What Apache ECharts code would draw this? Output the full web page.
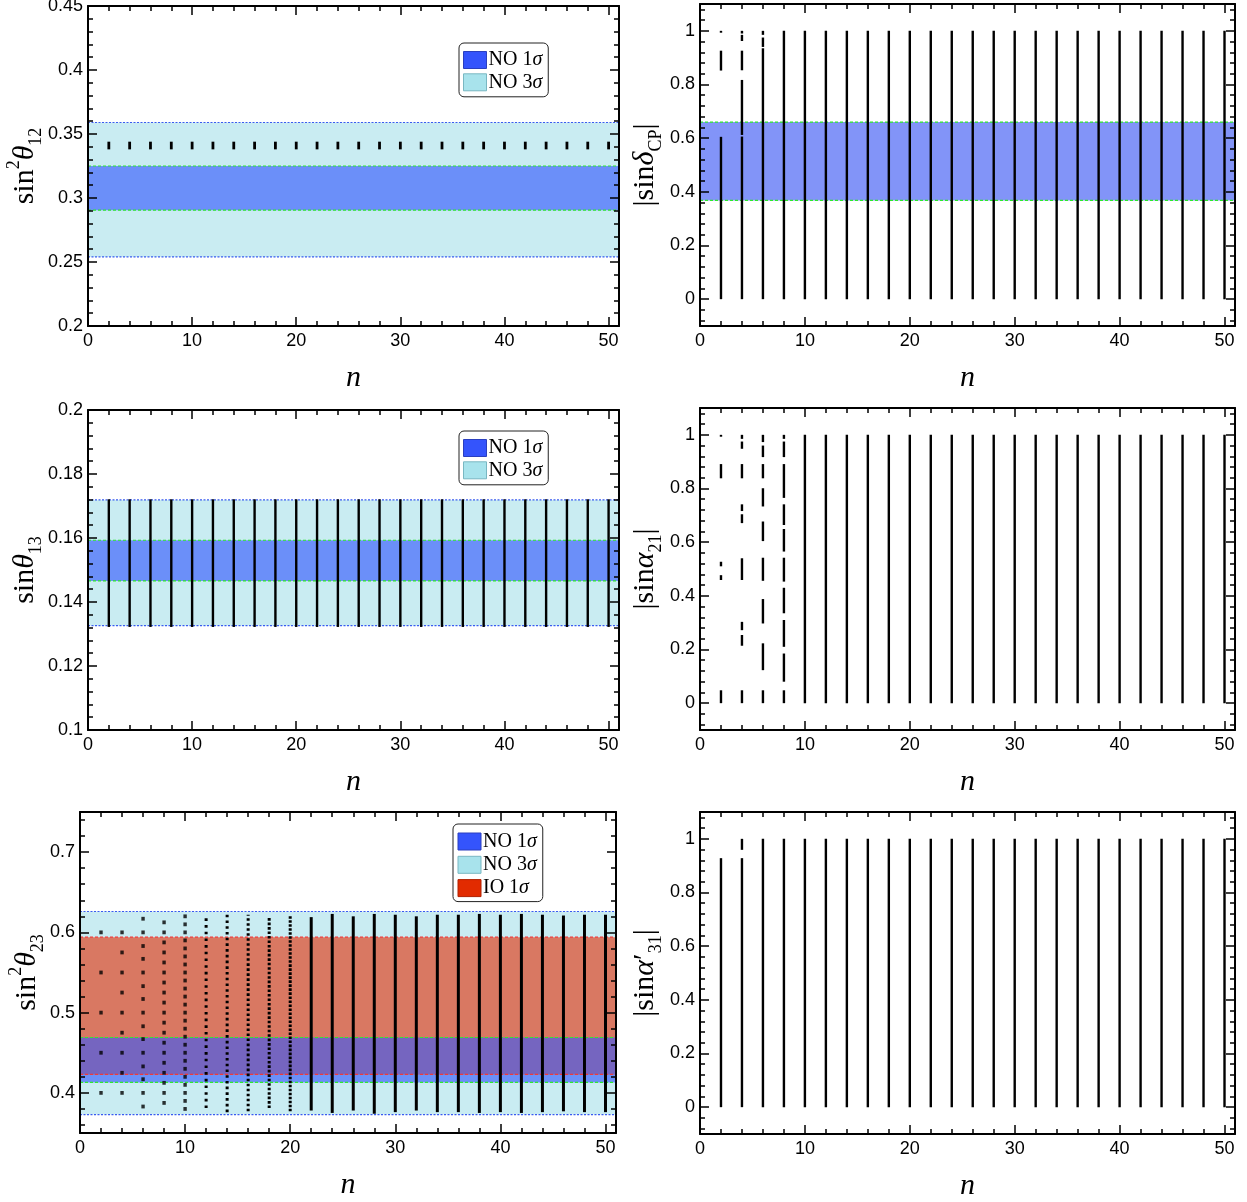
<!DOCTYPE html>
<html>
<head>
<meta charset="utf-8">
<script src="https://cdn.jsdelivr.net/npm/echarts@6/dist/echarts.min.js"></script>
<style>
  html, body { margin: 0; padding: 0; background: #fff; }
  #chart { width: 1247px; height: 1202px; }
</style>
</head>
<body>
<div id="chart"></div>
<script>
// ---------- tick positions ----------
const xMajorTicks = [0, 10, 20, 30, 40, 50];
const xMinorTicks = [2, 4, 6, 8, 12, 14, 16, 18, 22, 24, 26, 28, 32, 34, 36, 38, 42, 44, 46, 48];

const s12MajorTicks = [0.2, 0.25, 0.3, 0.35, 0.4, 0.45];
const s12MinorTicks = [0.21, 0.22, 0.23, 0.24, 0.26, 0.27, 0.28, 0.29, 0.31, 0.32, 0.33, 0.34,
                       0.36, 0.37, 0.38, 0.39, 0.41, 0.42, 0.43, 0.44];
const s13MajorTicks = [0.1, 0.12, 0.14, 0.16, 0.18, 0.2];
const s13MinorTicks = [0.104, 0.108, 0.112, 0.116, 0.124, 0.128, 0.132, 0.136, 0.144, 0.148, 0.152, 0.156,
                       0.164, 0.168, 0.172, 0.176, 0.184, 0.188, 0.192, 0.196];
const s23MajorTicks = [0.4, 0.5, 0.6, 0.7];
const s23MinorTicks = [0.36, 0.38, 0.42, 0.44, 0.46, 0.48, 0.52, 0.54, 0.56, 0.58, 0.62, 0.64, 0.66, 0.68, 0.72, 0.74];
const unitMajorTicks = [0, 0.2, 0.4, 0.6, 0.8, 1];
const unitMinorTicks = [-0.08, -0.04, 0.04, 0.08, 0.12, 0.16, 0.24, 0.28, 0.32, 0.36, 0.44, 0.48, 0.52, 0.56,
                        0.64, 0.68, 0.72, 0.76, 0.84, 0.88, 0.92, 0.96, 1.04, 1.08];

// ---------- model points: n = 2, 4, ..., 50 ----------
const nValues = [2, 4, 6, 8, 10, 12, 14, 16, 18, 20, 22, 24, 26, 28, 30, 32, 34, 36, 38, 40, 42, 44, 46, 48, 50];

// sin^2(theta12): short column at every n
const s12Low  = [0.338, 0.338, 0.338, 0.338, 0.338, 0.338, 0.338, 0.338, 0.338, 0.338, 0.338, 0.338, 0.338,
                 0.338, 0.338, 0.338, 0.338, 0.338, 0.338, 0.338, 0.338, 0.338, 0.338, 0.338, 0.338];
const s12High = [0.344, 0.344, 0.344, 0.344, 0.344, 0.344, 0.344, 0.344, 0.344, 0.344, 0.344, 0.344, 0.344,
                 0.344, 0.344, 0.344, 0.344, 0.344, 0.344, 0.344, 0.344, 0.344, 0.344, 0.344, 0.344];

// sin(theta13)
const s13Low  = [0.1322, 0.1322, 0.1322, 0.1322, 0.1322, 0.1322, 0.1322, 0.1322, 0.1322, 0.1322, 0.1322, 0.1322, 0.1322,
                 0.1322, 0.1322, 0.1322, 0.1322, 0.1322, 0.1322, 0.1322, 0.1322, 0.1322, 0.1322, 0.1322, 0.1322];
const s13High = [0.1721, 0.1721, 0.1721, 0.1721, 0.1721, 0.1721, 0.1721, 0.1721, 0.1721, 0.1721, 0.1721, 0.1721, 0.1721,
                 0.1721, 0.1721, 0.1721, 0.1721, 0.1721, 0.1721, 0.1721, 0.1721, 0.1721, 0.1721, 0.1721, 0.1721];

// |sin deltaCP|: covered intervals at each n
const dcpSegments = [
  [[0.993, 1.0], [0.852, 0.926], [0, 0.605]],
  [[0.99, 1.0], [0.962, 0.985], [0.853, 0.926], [0.612, 0.817], [0, 0.606]],
  [[0.985, 1.0], [0.94, 0.975], [0, 0.935]],
  [[0, 1]], [[0, 1]], [[0, 1]], [[0, 1]], [[0, 1]], [[0, 1]], [[0, 1]], [[0, 1]], [[0, 1]],
  [[0, 1]], [[0, 1]], [[0, 1]], [[0, 1]], [[0, 1]], [[0, 1]], [[0, 1]], [[0, 1]], [[0, 1]],
  [[0, 1]], [[0, 1]], [[0, 1]], [[0, 1]]
];

// |sin alpha21|
const a21Segments = [
  [[0.993, 1.0], [0.838, 0.891], [0.51, 0.527], [0.459, 0.477], [0, 0.048]],
  [[0.985, 1.0], [0.948, 0.975], [0.838, 0.891], [0.716, 0.741], [0.671, 0.704], [0.459, 0.540],
   [0.272, 0.303], [0.214, 0.254], [0, 0.048]],
  [[0.973, 1.0], [0.917, 0.96], [0.838, 0.891], [0.733, 0.801], [0.604, 0.677], [0.456, 0.542],
   [0.297, 0.388], [0.123, 0.223], [0, 0.048]],
  [[0.985, 1.0], [0.917, 0.975], [0.765, 0.891], [0.664, 0.741], [0.565, 0.649], [0.453, 0.542],
   [0.335, 0.430], [0.210, 0.310], [0.080, 0.185], [0, 0.048]],
  [[0, 1]], [[0, 1]], [[0, 1]], [[0, 1]], [[0, 1]], [[0, 1]], [[0, 1]], [[0, 1]], [[0, 1]],
  [[0, 1]], [[0, 1]], [[0, 1]], [[0, 1]], [[0, 1]], [[0, 1]], [[0, 1]], [[0, 1]], [[0, 1]],
  [[0, 1]], [[0, 1]], [[0, 1]]
];

// |sin alpha'31|
const a31Segments = [
  [[0, 0.928]],
  [[0, 0.928], [0.959, 1.0]],
  [[0, 1]], [[0, 1]], [[0, 1]], [[0, 1]], [[0, 1]], [[0, 1]], [[0, 1]], [[0, 1]], [[0, 1]],
  [[0, 1]], [[0, 1]], [[0, 1]], [[0, 1]], [[0, 1]], [[0, 1]], [[0, 1]], [[0, 1]], [[0, 1]],
  [[0, 1]], [[0, 1]], [[0, 1]], [[0, 1]], [[0, 1]]
];

// sin^2(theta23): isolated points for small n ...
const s23DotN = [2, 4, 6, 8, 10];
const s23Dots = [
  [0.4, 0.45, 0.5, 0.55, 0.6],
  [0.4, 0.425, 0.45, 0.475, 0.5, 0.525, 0.55, 0.575, 0.6],
  [0.383, 0.4, 0.417, 0.433, 0.45, 0.467, 0.483, 0.5, 0.517, 0.533, 0.55, 0.567, 0.583, 0.6, 0.617],
  [0.3875, 0.4, 0.4125, 0.425, 0.4375, 0.45, 0.4625, 0.475, 0.4875, 0.5, 0.5125, 0.525, 0.5375,
   0.55, 0.5625, 0.575, 0.5875, 0.6, 0.6125],
  [0.38, 0.39, 0.40, 0.41, 0.42, 0.43, 0.44, 0.45, 0.46, 0.47, 0.48, 0.49, 0.50, 0.51, 0.52, 0.53,
   0.54, 0.55, 0.56, 0.57, 0.58, 0.59, 0.60, 0.61, 0.62]
];
// ... and dense columns for larger n (pitch = spacing of the points, 0 = solid)
const s23ColN     = [12, 14, 16, 18, 20, 22, 24, 26, 28, 30, 32, 34, 36, 38, 40, 42, 44, 46, 48, 50];
const s23ColLow   = [0.381, 0.376, 0.377, 0.381, 0.377, 0.378, 0.375, 0.378, 0.374, 0.376, 0.378, 0.376, 0.376,
                     0.375, 0.376, 0.375, 0.376, 0.377, 0.376, 0.376];
const s23ColHigh  = [0.618, 0.623, 0.622, 0.619, 0.622, 0.619, 0.623, 0.620, 0.623, 0.622, 0.620, 0.622, 0.622,
                     0.623, 0.622, 0.623, 0.622, 0.621, 0.622, 0.622];
const s23ColPitch = [0.00833, 0.00714, 0.00625, 0.00556, 0.005, 0, 0, 0, 0, 0, 0, 0, 0,
                     0, 0, 0, 0, 0, 0, 0];

// ---------- allowed ranges [low, high] ----------
const s12NO3 = [0.254, 0.359];
const s12NO1 = [0.2905, 0.325];
const dcpNO1 = [0.368, 0.660];
const s13NO3 = [0.1326, 0.1719];
const s13NO1 = [0.1466, 0.1593];
const s23NO3 = [0.373, 0.626];
const s23NO1 = [0.413, 0.469];
const s23IO1 = [0.423, 0.594];

// ---------- styling ----------
const SANS = 'Liberation Sans';
const SERIF = 'Liberation Serif';
const C = {
  cyan: '#c9ecf2', blue: '#6b8ff9', blueCP: '#8294f8', red: '#d97862', purple: '#7565c0',
  edge3: '#3a5cf0', edgeNO: '#2ee82e', edgeIO: '#f03a3a'
};

const grids = [
  { left: 88,  top: 6,   width: 531, height: 320 },
  { left: 700, top: 4,   width: 535, height: 322 },
  { left: 88,  top: 410, width: 531, height: 320 },
  { left: 700, top: 408, width: 535, height: 322 },
  { left: 80,  top: 812, width: 536, height: 321 },
  { left: 700, top: 812, width: 535, height: 322 }
].map(g => Object.assign({ containLabel: false, outerBoundsMode: 'none' }, g));

const titleRich = {
  r:   { fontFamily: SERIF, fontSize: 30, lineHeight: 40, color: '#000' },
  i:   { fontFamily: SERIF, fontSize: 30, lineHeight: 40, fontStyle: 'italic', color: '#000' },
  sup: { fontFamily: SERIF, fontSize: 18, lineHeight: 16, verticalAlign: 'top', color: '#000' },
  sub: { fontFamily: SERIF, fontSize: 18, lineHeight: 26, verticalAlign: 'bottom', color: '#000' }
};

const panels = [
  { y: [0.2, 0.45],  major: s12MajorTicks, minor: s12MinorTicks, gap: 43,
    title: '{r|sin}{sup|2}{i|θ}{sub|12}' },
  { y: [-0.1, 1.1],  major: unitMajorTicks, minor: unitMinorTicks, gap: 35,
    title: '{r||sin}{i|δ}{sub|CP}{r||}' },
  { y: [0.1, 0.2],   major: s13MajorTicks, minor: s13MinorTicks, gap: 43,
    title: '{r|sin}{i|θ}{sub|13}' },
  { y: [-0.1, 1.1],  major: unitMajorTicks, minor: unitMinorTicks, gap: 35,
    title: '{r||sin}{i|α}{sub|21}{r||}' },
  { y: [0.35, 0.75], major: s23MajorTicks, minor: s23MinorTicks, gap: 33,
    title: '{r|sin}{sup|2}{i|θ}{sub|23}' },
  { y: [-0.1, 1.1],  major: unitMajorTicks, minor: unitMinorTicks, gap: 35,
    title: '{r||sin}{i|α}{r|′}{sub|31}{r||}' }
];

const lineStyleBlack = { color: '#000', width: 2 };
const tickStyle = { color: '#000', width: 1.5 };
const labelStyle = { color: '#000', fontSize: 18, fontFamily: SANS };

const xAxes = [], yAxes = [];
panels.forEach((p, gi) => {
  const baseX = { gridIndex: gi, type: 'value', min: 0, max: 51, z: 10, splitLine: { show: false } };
  const baseY = { gridIndex: gi, type: 'value', min: p.y[0], max: p.y[1], z: 10, splitLine: { show: false } };
  ['bottom', 'top'].forEach(pos => {
    xAxes.push(Object.assign({}, baseX, {
      position: pos,
      axisLine: { show: true, onZero: false, lineStyle: lineStyleBlack },
      axisTick: { show: true, inside: true, length: 9, lineStyle: tickStyle, customValues: xMajorTicks },
      axisLabel: pos === 'bottom'
        ? Object.assign({ show: true, margin: 6, customValues: xMajorTicks }, labelStyle)
        : { show: false },
      name: pos === 'bottom' ? 'n' : '',
      nameLocation: 'middle', nameGap: 37,
      nameTextStyle: { fontFamily: SERIF, fontStyle: 'italic', fontSize: 30, color: '#000' }
    }));
    xAxes.push(Object.assign({}, baseX, {
      position: pos,
      axisLine: { show: false, onZero: false },
      axisTick: { show: true, inside: true, length: 5, lineStyle: tickStyle, customValues: xMinorTicks },
      axisLabel: { show: false }
    }));
  });
  ['left', 'right'].forEach(pos => {
    yAxes.push(Object.assign({}, baseY, {
      position: pos,
      axisLine: { show: true, onZero: false, lineStyle: lineStyleBlack },
      axisTick: { show: true, inside: true, length: 9, lineStyle: tickStyle, customValues: p.major },
      axisLabel: pos === 'left'
        ? Object.assign({ show: true, margin: 5, customValues: p.major }, labelStyle)
        : { show: false },
      name: pos === 'left' ? p.title : '',
      nameLocation: 'middle', nameRotate: 90, nameGap: p.gap, nameMoveOverlap: false,
      nameTextStyle: { rich: titleRich, color: '#000' }
    }));
    yAxes.push(Object.assign({}, baseY, {
      position: pos,
      axisLine: { show: false, onZero: false },
      axisTick: { show: true, inside: true, length: 5, lineStyle: tickStyle, customValues: p.minor },
      axisLabel: { show: false }
    }));
  });
});

// ---------- renderers ----------
function bandRenderer(fill, edge, order) {
  return function (params, api) {
    const cs = params.coordSys;
    const yTop = api.coord([0, api.value(1)])[1];
    const yBot = api.coord([0, api.value(0)])[1];
    const children = [{
      type: 'rect', z2: order,
      shape: { x: cs.x, y: yTop, width: cs.width, height: yBot - yTop },
      style: { fill: fill }
    }];
    if (edge) {
      [yTop, yBot].forEach(yy => children.push({
        type: 'line', z2: 50,
        shape: { x1: cs.x, y1: yy, x2: cs.x + cs.width, y2: yy },
        style: { stroke: edge.color, lineWidth: edge.width, lineDash: edge.dash, fill: null }
      }));
    }
    return { type: 'group', children: children };
  };
}

function segmentRenderer(lineW) {
  return function (params, api) {
    const n = api.value(0), lo = api.value(1), hi = api.value(2), pitch = api.value(3);
    const a = api.coord([n, lo]), b = api.coord([n, hi]);
    const style = { stroke: '#000', lineWidth: lineW, fill: null };
    if (pitch > 0) {
      const px = Math.abs(api.size([0, pitch])[1]);
      style.lineDash = [2.6, Math.max(px - 2.6, 0.5)];
    }
    return { type: 'line', shape: { x1: a[0], y1: a[1], x2: b[0], y2: b[1] }, style: style };
  };
}

const edge3  = { color: C.edge3,  width: 1.2, dash: [2, 1.5] };
const edgeNO = { color: C.edgeNO, width: 1.2, dash: [3, 2] };
const edgeIO = { color: C.edgeIO, width: 1.2, dash: [3, 2] };

function band(gi, name, range, fill, edge, order) {
  return {
    type: 'custom', name: name, xAxisIndex: gi * 4, yAxisIndex: gi * 4, z: 2,
    data: [[range[0], range[1]]], renderItem: bandRenderer(fill, edge, order), silent: true
  };
}
function columns(gi, rows, lineW) {
  return {
    type: 'custom', xAxisIndex: gi * 4, yAxisIndex: gi * 4, z: 5, silent: true,
    dimensions: ['n', 'lo', 'hi', 'pitch'], encode: { x: 0, y: [1, 2] },
    data: rows, renderItem: segmentRenderer(lineW)
  };
}
function rangeRows(lows, highs) {
  return nValues.map((n, i) => [n, lows[i], highs[i], 0]);
}
function segmentRows(segs) {
  const rows = [];
  nValues.forEach((n, i) => segs[i].forEach(s => rows.push([n, s[0], s[1], 0])));
  return rows;
}

const s23DotData = [];
s23DotN.forEach((n, i) => s23Dots[i].forEach(v => s23DotData.push([n, v])));
const s23ColRows = s23ColN.map((n, i) => [n, s23ColLow[i], s23ColHigh[i], s23ColPitch[i]]);

// overlap of the two 1-sigma ranges for sin^2(theta23)
const s23Both = [Math.max(s23NO1[0], s23IO1[0]), Math.min(s23NO1[1], s23IO1[1])];

const series = [
  band(0, 'NO 3σ', s12NO3, C.cyan, edge3, 1),
  band(0, 'NO 1σ', s12NO1, C.blue, edgeNO, 2),
  columns(0, rangeRows(s12Low, s12High), 2.8),

  band(1, 'NO 1σ', dcpNO1, C.blueCP, edgeNO, 2),
  columns(1, segmentRows(dcpSegments), 2.4),

  band(2, 'NO 3σ', s13NO3, C.cyan, edge3, 1),
  band(2, 'NO 1σ', s13NO1, C.blue, edgeNO, 2),
  columns(2, rangeRows(s13Low, s13High), 2.4),

  columns(3, segmentRows(a21Segments), 2.4),

  band(4, 'NO 3σ', s23NO3, C.cyan, edge3, 1),
  band(4, 'NO 1σ', s23NO1, C.blue, edgeNO, 2),
  band(4, 'IO 1σ', s23IO1, C.red, edgeIO, 3),
  band(4, 'NO+IO 1σ', s23Both, C.purple, null, 4),
  columns(4, s23ColRows, 3),
  {
    type: 'scatter', xAxisIndex: 16, yAxisIndex: 16, z: 5, silent: true,
    symbol: 'rect', symbolSize: [3.4, 3.8], itemStyle: { color: '#000' },
    data: s23DotData
  },

  columns(5, segmentRows(a31Segments), 2.4)
];

const legendSwatch = {
  'NO 1σ': { color: '#3454fc', borderColor: '#2a3fbf', borderWidth: 1 },
  'NO 3σ': { color: '#a8e3ec', borderColor: '#79b7c2', borderWidth: 1 },
  'IO 1σ': { color: '#e22b00', borderColor: '#b02000', borderWidth: 1 }
};
function legendBox(left, top, names, gap, padding) {
  return {
    left: left, top: top, orient: 'vertical', selectedMode: false,
    icon: 'rect', itemWidth: 23, itemHeight: 17, itemGap: gap, padding: padding,
    backgroundColor: '#fff', borderColor: '#222', borderWidth: 1, borderRadius: 5,
    data: names.map(nm => ({ name: nm, icon: 'rect', itemStyle: legendSwatch[nm] })),
    formatter: nm => nm.replace('σ', '{s|σ}'),
    textStyle: {
      fontFamily: SERIF, fontSize: 20, lineHeight: 20, color: '#000', padding: [0, 0, 0, -3],
      rich: { s: { fontFamily: SERIF, fontSize: 20, lineHeight: 20, fontStyle: 'italic', color: '#000' } }
    }
  };
}

const option = {
  animation: false,
  backgroundColor: '#fff',
  grid: grids,
  xAxis: xAxes,
  yAxis: yAxes,
  legend: [
    legendBox(459, 43, ['NO 1σ', 'NO 3σ'], 2.3, [7, 6, 4.5, 4]),
    legendBox(459, 431, ['NO 1σ', 'NO 3σ'], 2.3, [7, 6, 4.5, 4]),
    legendBox(453, 824, ['NO 1σ', 'NO 3σ', 'IO 1σ'], 3.3, [7.5, 6, 3.5, 4.5])
  ],
  series: series
};

const chart = echarts.init(document.getElementById('chart'), null, { renderer: 'canvas' });
chart.setOption(option);
</script>
</body>
</html>
